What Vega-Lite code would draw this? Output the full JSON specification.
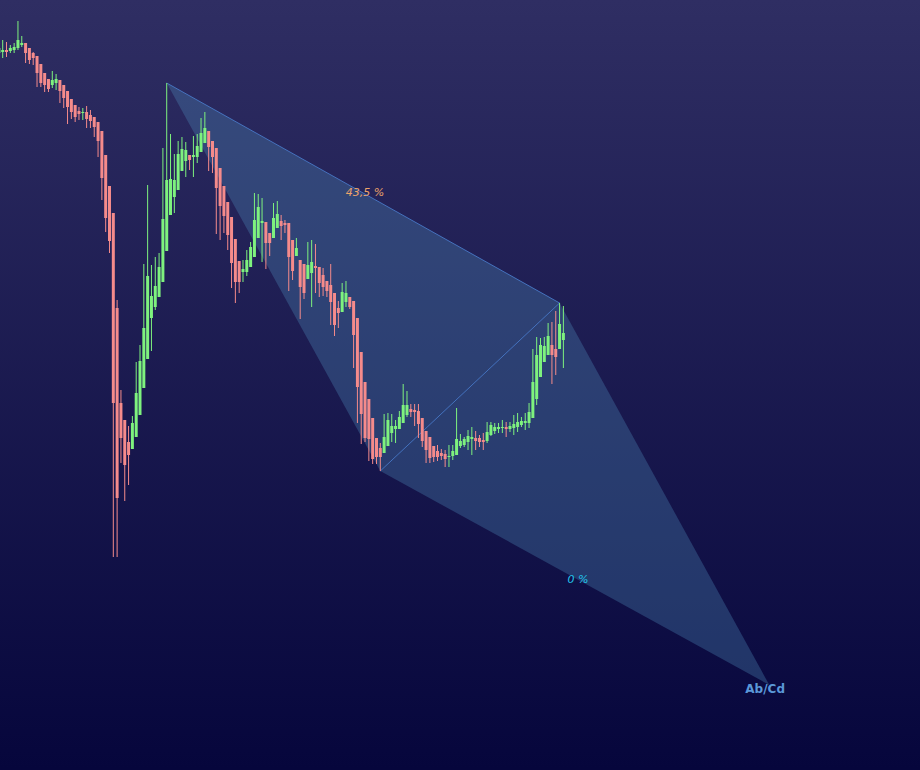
{
  "$schema": "https://vega.github.io/schema/vega-lite/v6.json",
  "width": 920,
  "height": 770,
  "padding": 0,
  "autosize": {"type": "fit", "contains": "padding"},
  "background": "#171748",
  "config": {"view": {"stroke": null}, "scale": {"continuousPadding": 0}},
  "datasets": {
    "candles": [
      {"i":-1,"o":71.7,"h":72.4,"l":71.5,"c":72.2},
      {"i":0,"o":71.8,"h":73.0,"l":71.2,"c":72.0},
      {"i":1,"o":72.0,"h":72.8,"l":71.3,"c":71.8},
      {"i":2,"o":71.9,"h":72.5,"l":71.7,"c":72.2},
      {"i":3,"o":72.0,"h":72.7,"l":71.7,"c":72.3},
      {"i":4,"o":72.2,"h":74.9,"l":72.0,"c":73.0},
      {"i":5,"o":72.5,"h":73.4,"l":72.3,"c":72.7},
      {"i":6,"o":72.7,"h":72.7,"l":70.7,"c":71.7},
      {"i":7,"o":72.2,"h":72.2,"l":70.6,"c":71.0},
      {"i":8,"o":71.7,"h":71.8,"l":70.5,"c":71.2},
      {"i":9,"o":71.4,"h":71.4,"l":68.3,"c":69.7},
      {"i":10,"o":70.6,"h":70.6,"l":68.3,"c":68.7},
      {"i":11,"o":69.7,"h":69.7,"l":67.8,"c":68.5},
      {"i":12,"o":69.1,"h":69.1,"l":67.8,"c":68.1},
      {"i":13,"o":68.5,"h":69.9,"l":68.2,"c":69.0},
      {"i":14,"o":68.7,"h":69.6,"l":68.0,"c":69.1},
      {"i":15,"o":69.0,"h":69.0,"l":66.7,"c":67.9},
      {"i":16,"o":68.5,"h":68.5,"l":66.2,"c":67.2},
      {"i":17,"o":67.9,"h":67.9,"l":64.6,"c":66.3},
      {"i":18,"o":67.1,"h":67.1,"l":65.1,"c":65.8},
      {"i":19,"o":66.5,"h":66.5,"l":64.8,"c":65.3},
      {"i":20,"o":65.9,"h":66.3,"l":65.0,"c":65.6},
      {"i":21,"o":65.7,"h":66.2,"l":65.0,"c":65.8},
      {"i":22,"o":65.8,"h":66.4,"l":64.2,"c":65.1},
      {"i":23,"o":65.5,"h":66.0,"l":64.2,"c":64.9},
      {"i":24,"o":65.3,"h":65.3,"l":63.3,"c":64.3},
      {"i":25,"o":64.8,"h":64.8,"l":61.3,"c":62.9},
      {"i":26,"o":63.9,"h":63.9,"l":57.0,"c":59.2},
      {"i":27,"o":61.5,"h":61.5,"l":53.8,"c":55.2},
      {"i":28,"o":58.4,"h":58.4,"l":51.7,"c":52.9},
      {"i":29,"o":55.7,"h":55.7,"l":21.3,"c":36.7},
      {"i":30,"o":46.2,"h":47.0,"l":21.3,"c":27.2},
      {"i":31,"o":36.7,"h":38.0,"l":30.7,"c":33.2},
      {"i":32,"o":35.0,"h":35.0,"l":26.9,"c":30.5},
      {"i":33,"o":32.8,"h":34.4,"l":28.5,"c":31.5},
      {"i":34,"o":32.1,"h":35.4,"l":32.1,"c":34.7},
      {"i":35,"o":33.3,"h":40.8,"l":33.3,"c":37.7},
      {"i":36,"o":35.5,"h":42.5,"l":35.5,"c":40.9},
      {"i":37,"o":38.2,"h":50.6,"l":38.2,"c":44.2},
      {"i":38,"o":41.1,"h":58.5,"l":41.1,"c":49.4},
      {"i":39,"o":45.2,"h":50.5,"l":41.9,"c":47.4},
      {"i":40,"o":46.3,"h":51.3,"l":46.0,"c":48.4},
      {"i":41,"o":47.3,"h":51.7,"l":47.3,"c":50.3},
      {"i":42,"o":48.8,"h":62.2,"l":48.8,"c":55.1},
      {"i":43,"o":51.9,"h":68.7,"l":51.9,"c":59.0},
      {"i":44,"o":55.5,"h":63.6,"l":55.5,"c":59.1},
      {"i":45,"o":57.3,"h":61.6,"l":55.7,"c":59.0},
      {"i":46,"o":58.0,"h":62.9,"l":58.0,"c":61.6},
      {"i":47,"o":59.9,"h":63.3,"l":59.9,"c":62.1},
      {"i":48,"o":60.9,"h":62.8,"l":59.3,"c":62.0},
      {"i":49,"o":61.5,"h":61.5,"l":60.0,"c":61.0},
      {"i":50,"o":61.3,"h":63.4,"l":59.3,"c":61.5},
      {"i":51,"o":61.3,"h":63.6,"l":60.7,"c":62.4},
      {"i":52,"o":61.8,"h":65.2,"l":61.8,"c":63.7},
      {"i":53,"o":62.7,"h":65.8,"l":62.7,"c":64.2},
      {"i":54,"o":63.9,"h":63.9,"l":59.9,"c":62.3},
      {"i":55,"o":62.9,"h":62.9,"l":59.7,"c":61.3},
      {"i":56,"o":62.2,"h":62.2,"l":53.6,"c":58.2},
      {"i":57,"o":60.2,"h":60.2,"l":53.0,"c":56.4},
      {"i":58,"o":58.4,"h":58.4,"l":53.7,"c":55.4},
      {"i":59,"o":56.8,"h":56.8,"l":52.0,"c":53.5},
      {"i":60,"o":55.3,"h":55.3,"l":48.2,"c":50.7},
      {"i":61,"o":53.1,"h":53.1,"l":46.7,"c":48.8},
      {"i":62,"o":50.9,"h":50.9,"l":47.7,"c":48.8},
      {"i":63,"o":49.8,"h":51.0,"l":48.8,"c":50.1},
      {"i":64,"o":49.8,"h":52.0,"l":49.4,"c":51.0},
      {"i":65,"o":50.3,"h":52.8,"l":50.3,"c":52.3},
      {"i":66,"o":51.3,"h":57.7,"l":51.3,"c":55.0},
      {"i":67,"o":53.2,"h":57.6,"l":53.2,"c":56.3},
      {"i":68,"o":54.7,"h":57.2,"l":50.8,"c":54.9},
      {"i":69,"o":54.8,"h":54.8,"l":50.1,"c":52.7},
      {"i":70,"o":53.7,"h":53.7,"l":51.4,"c":52.7},
      {"i":71,"o":53.2,"h":56.7,"l":53.2,"c":55.2},
      {"i":72,"o":54.2,"h":56.9,"l":54.2,"c":55.6},
      {"i":73,"o":54.9,"h":55.5,"l":53.0,"c":54.4},
      {"i":74,"o":54.7,"h":55.0,"l":53.7,"c":54.5},
      {"i":75,"o":54.7,"h":54.7,"l":47.9,"c":51.3},
      {"i":76,"o":53.0,"h":53.0,"l":49.0,"c":49.9},
      {"i":77,"o":51.4,"h":53.2,"l":51.4,"c":52.2},
      {"i":78,"o":51.0,"h":51.0,"l":45.1,"c":48.3},
      {"i":79,"o":50.6,"h":50.6,"l":47.1,"c":47.7},
      {"i":80,"o":49.1,"h":52.8,"l":49.1,"c":50.5},
      {"i":81,"o":49.7,"h":53.0,"l":46.3,"c":50.8},
      {"i":82,"o":50.4,"h":52.6,"l":47.7,"c":50.2},
      {"i":83,"o":50.3,"h":50.3,"l":47.3,"c":48.7},
      {"i":84,"o":49.5,"h":50.2,"l":47.4,"c":48.3},
      {"i":85,"o":48.9,"h":48.9,"l":47.3,"c":47.9},
      {"i":86,"o":48.5,"h":50.6,"l":44.5,"c":46.8},
      {"i":87,"o":47.7,"h":47.7,"l":43.4,"c":44.5},
      {"i":88,"o":46.2,"h":46.9,"l":44.2,"c":45.7},
      {"i":89,"o":45.8,"h":48.7,"l":45.8,"c":47.8},
      {"i":90,"o":46.8,"h":48.9,"l":46.3,"c":47.7},
      {"i":91,"o":47.3,"h":47.3,"l":46.1,"c":46.3},
      {"i":92,"o":46.9,"h":46.9,"l":40.2,"c":43.5},
      {"i":93,"o":45.2,"h":45.2,"l":34.7,"c":38.3},
      {"i":94,"o":41.8,"h":41.8,"l":32.6,"c":35.6},
      {"i":95,"o":38.8,"h":38.8,"l":32.8,"c":33.2},
      {"i":96,"o":37.1,"h":37.1,"l":30.9,"c":33.1},
      {"i":97,"o":35.2,"h":35.2,"l":30.6,"c":31.1},
      {"i":98,"o":33.2,"h":33.2,"l":30.6,"c":31.3},
      {"i":99,"o":32.2,"h":32.7,"l":29.9,"c":31.3},
      {"i":100,"o":31.7,"h":35.6,"l":31.7,"c":33.3},
      {"i":101,"o":32.4,"h":35.7,"l":32.4,"c":35.0},
      {"i":102,"o":33.7,"h":35.6,"l":32.8,"c":34.4},
      {"i":103,"o":34.1,"h":35.0,"l":32.7,"c":34.4},
      {"i":104,"o":34.1,"h":35.9,"l":34.1,"c":35.3},
      {"i":105,"o":34.7,"h":38.6,"l":34.7,"c":36.5},
      {"i":106,"o":35.5,"h":37.9,"l":35.3,"c":36.5},
      {"i":107,"o":36.1,"h":36.6,"l":35.3,"c":35.8},
      {"i":108,"o":36.0,"h":36.6,"l":34.4,"c":35.8},
      {"i":109,"o":35.9,"h":36.6,"l":33.2,"c":34.6},
      {"i":110,"o":35.2,"h":35.2,"l":32.3,"c":32.9},
      {"i":111,"o":33.9,"h":33.9,"l":30.7,"c":32.0},
      {"i":112,"o":33.3,"h":33.3,"l":30.7,"c":31.2},
      {"i":113,"o":32.4,"h":32.4,"l":30.8,"c":31.3},
      {"i":114,"o":31.9,"h":32.5,"l":30.9,"c":31.3},
      {"i":115,"o":31.7,"h":32.1,"l":31.0,"c":31.4},
      {"i":116,"o":31.6,"h":32.0,"l":30.3,"c":31.1},
      {"i":117,"o":31.3,"h":32.5,"l":30.3,"c":31.4},
      {"i":118,"o":31.4,"h":32.5,"l":31.0,"c":31.9},
      {"i":119,"o":31.5,"h":36.2,"l":31.5,"c":33.1},
      {"i":120,"o":32.4,"h":33.6,"l":32.2,"c":32.9},
      {"i":121,"o":32.5,"h":33.3,"l":32.3,"c":33.1},
      {"i":122,"o":32.8,"h":34.0,"l":32.0,"c":33.4},
      {"i":123,"o":33.1,"h":34.3,"l":31.5,"c":33.3},
      {"i":124,"o":33.2,"h":33.9,"l":32.0,"c":32.9},
      {"i":125,"o":33.2,"h":33.5,"l":32.3,"c":32.8},
      {"i":126,"o":33.0,"h":33.7,"l":32.0,"c":32.8},
      {"i":127,"o":32.9,"h":34.8,"l":32.7,"c":33.8},
      {"i":128,"o":33.5,"h":34.8,"l":33.4,"c":34.5},
      {"i":129,"o":33.9,"h":34.7,"l":33.6,"c":34.3},
      {"i":130,"o":34.1,"h":34.7,"l":33.7,"c":34.3},
      {"i":131,"o":34.2,"h":35.0,"l":33.7,"c":34.3},
      {"i":132,"o":34.3,"h":34.8,"l":33.3,"c":34.1},
      {"i":133,"o":34.1,"h":34.8,"l":33.8,"c":34.4},
      {"i":134,"o":34.2,"h":35.5,"l":33.5,"c":34.6},
      {"i":135,"o":34.3,"h":35.7,"l":33.8,"c":34.8},
      {"i":136,"o":34.5,"h":35.3,"l":34.3,"c":34.9},
      {"i":137,"o":34.7,"h":35.7,"l":34.0,"c":34.9},
      {"i":138,"o":34.7,"h":36.7,"l":34.2,"c":35.8},
      {"i":139,"o":35.2,"h":42.1,"l":35.2,"c":38.8},
      {"i":140,"o":37.1,"h":43.3,"l":36.5,"c":41.5},
      {"i":141,"o":39.3,"h":43.2,"l":39.3,"c":42.5},
      {"i":142,"o":40.8,"h":43.3,"l":40.8,"c":42.4},
      {"i":143,"o":41.5,"h":44.7,"l":41.5,"c":43.4},
      {"i":144,"o":42.5,"h":44.8,"l":38.6,"c":41.5},
      {"i":145,"o":42.1,"h":45.9,"l":39.5,"c":41.3},
      {"i":146,"o":42.1,"h":46.7,"l":42.1,"c":44.6},
      {"i":147,"o":43.0,"h":46.4,"l":40.2,"c":43.7}
    ],
    "pattern": [
      {"shape":"ABC","k":0,"i":43,"p":68.7},
      {"shape":"ABC","k":1,"i":99,"p":29.9},
      {"shape":"ABC","k":2,"i":146,"p":46.7},
      {"shape":"ABC","k":3,"i":43,"p":68.7},
      {"shape":"BCD","k":0,"i":99,"p":29.9},
      {"shape":"BCD","k":1,"i":146,"p":46.7},
      {"shape":"BCD","k":2,"i":201,"p":8.5},
      {"shape":"BCD","k":3,"i":99,"p":29.9}
    ],
    "legs": [
      {"seg":"AC","k":0,"i":43,"p":68.7},
      {"seg":"AC","k":1,"i":146,"p":46.7},
      {"seg":"BC","k":0,"i":99,"p":29.9},
      {"seg":"BC","k":1,"i":146,"p":46.7}
    ]
  },
  "layer": [
    {
      "data": {"values": [{}]},
      "mark": {"type": "rect", "color": {"gradient": "linear", "x1": 0, "y1": 0, "x2": 0, "y2": 1, "stops": [{"offset": 0, "color": "#2f2e63"}, {"offset": 1, "color": "#06063c"}]}},
      "encoding": {}
    },
    {
      "data": {"name": "pattern"},
      "mark": {"type": "line", "fill": "#508cb9", "fillOpacity": 0.33, "strokeOpacity": 0, "clip": true},
      "encoding": {
        "x": {"field": "i", "type": "quantitative", "scale": {"domain": [-0.708, 240.5], "nice": false, "zero": false, "padding": 0}, "axis": null},
        "y": {"field": "p", "type": "quantitative", "scale": {"domain": [0, 77], "nice": false, "zero": false, "padding": 0}, "axis": null},
        "detail": {"field": "shape"},
        "order": {"field": "k"}
      }
    },
    {
      "data": {"name": "legs"},
      "mark": {"type": "line", "color": "#4a7ccc", "strokeWidth": 1, "opacity": 0.85, "clip": true},
      "encoding": {
        "x": {"field": "i", "type": "quantitative", "scale": {"domain": [-0.708, 240.5], "nice": false, "zero": false, "padding": 0}, "axis": null},
        "y": {"field": "p", "type": "quantitative", "scale": {"domain": [0, 77], "nice": false, "zero": false, "padding": 0}, "axis": null},
        "detail": {"field": "seg"},
        "order": {"field": "k"}
      }
    },
    {
      "data": {"name": "candles"},
      "mark": {"type": "rule", "strokeWidth": 1, "clip": true},
      "encoding": {
        "x": {"field": "i", "type": "quantitative", "scale": {"domain": [-0.708, 240.5], "nice": false, "zero": false, "padding": 0}, "axis": null},
        "y": {"field": "l", "type": "quantitative", "scale": {"domain": [0, 77], "nice": false, "zero": false, "padding": 0}, "axis": null},
        "y2": {"field": "h"},
        "color": {"condition": {"test": "datum.c >= datum.o", "value": "#7ef27e"}, "value": "#f58b8b"}
      }
    },
    {
      "data": {"name": "candles"},
      "mark": {"type": "bar", "size": 3, "clip": true},
      "encoding": {
        "x": {"field": "i", "type": "quantitative", "scale": {"domain": [-0.708, 240.5], "nice": false, "zero": false, "padding": 0}, "axis": null},
        "y": {"field": "o", "type": "quantitative", "scale": {"domain": [0, 77], "nice": false, "zero": false, "padding": 0}, "axis": null},
        "y2": {"field": "c"},
        "color": {"condition": {"test": "datum.c >= datum.o", "value": "#7ef27e"}, "value": "#f58b8b"}
      }
    },
    {
      "data": {"values": [{"label": "43,5 %", "i": 95.0, "p": 57.7}]},
      "mark": {"type": "text", "font": "DejaVu Sans", "fontSize": 11, "fontStyle": "italic", "color": "#eea46a", "align": "center", "baseline": "middle"},
      "encoding": {
        "x": {"field": "i", "type": "quantitative", "scale": {"domain": [-0.708, 240.5], "nice": false, "zero": false, "padding": 0}, "axis": null},
        "y": {"field": "p", "type": "quantitative", "scale": {"domain": [0, 77], "nice": false, "zero": false, "padding": 0}, "axis": null},
        "text": {"field": "label"}
      }
    },
    {
      "data": {"values": [{"label": "0 %", "i": 150.8, "p": 19.0}]},
      "mark": {"type": "text", "font": "DejaVu Sans", "fontSize": 11, "fontStyle": "italic", "color": "#22c4ea", "align": "center", "baseline": "middle"},
      "encoding": {
        "x": {"field": "i", "type": "quantitative", "scale": {"domain": [-0.708, 240.5], "nice": false, "zero": false, "padding": 0}, "axis": null},
        "y": {"field": "p", "type": "quantitative", "scale": {"domain": [0, 77], "nice": false, "zero": false, "padding": 0}, "axis": null},
        "text": {"field": "label"}
      }
    },
    {
      "data": {"values": [{"label": "Ab/Cd", "i": 199.9, "p": 8.1}]},
      "mark": {"type": "text", "font": "DejaVu Sans", "fontSize": 12, "fontWeight": "bold", "color": "#5a98d8", "align": "center", "baseline": "middle"},
      "encoding": {
        "x": {"field": "i", "type": "quantitative", "scale": {"domain": [-0.708, 240.5], "nice": false, "zero": false, "padding": 0}, "axis": null},
        "y": {"field": "p", "type": "quantitative", "scale": {"domain": [0, 77], "nice": false, "zero": false, "padding": 0}, "axis": null},
        "text": {"field": "label"}
      }
    }
  ]
}
